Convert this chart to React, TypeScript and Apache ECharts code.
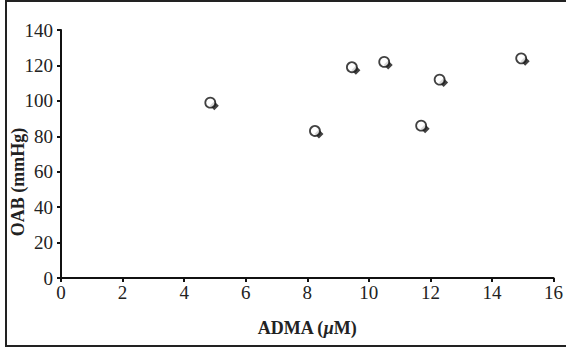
import React, { useEffect, useRef } from "react";
import * as echarts from "echarts";

const xTicks = [0, 2, 4, 6, 8, 10, 12, 14, 16];
const yTicks = [0, 20, 40, 60, 80, 100, 120, 140];
const admaValues = [4.85, 8.25, 9.45, 10.5, 11.7, 12.3, 14.95];
const oabValues = [99, 83, 119, 122, 86, 112, 124];
const xTitle = "ADMA (";
const xTitleItalic = "μ";
const xTitleEnd = "M)";
const yTitle = "OAB (mmHg)";

export default function App() {
  const ref = useRef<HTMLDivElement>(null);
  useEffect(() => {
    if (!ref.current) return;
    const chart = echarts.init(ref.current, null, { renderer: "svg" });
    const data = admaValues.map((x, i) => [x, oabValues[i]]);
    const font = "Liberation Serif";
    chart.setOption({
      animation: false,
      backgroundColor: "#fff",
      grid: { left: 61, right: 11, top: 30, bottom: 75 },
      xAxis: {
        type: "value",
        min: xTicks[0],
        max: xTicks[xTicks.length - 1],
        interval: 2,
        axisLine: { show: true, lineStyle: { color: "#111", width: 2 } },
        axisTick: { show: true, length: 4, lineStyle: { color: "#111", width: 2 } },
        splitLine: { show: false },
        axisLabel: { color: "#222", fontFamily: font, fontSize: 19, margin: 5 },
      },
      yAxis: {
        type: "value",
        min: yTicks[0],
        max: yTicks[yTicks.length - 1],
        interval: 20,
        axisLine: { show: true, lineStyle: { color: "#111", width: 2 } },
        axisTick: { show: true, length: 4, lineStyle: { color: "#111", width: 2 } },
        splitLine: { show: false },
        axisLabel: { color: "#222", fontFamily: font, fontSize: 19, margin: 8 },
      },
      graphic: [
        {
          type: "rect",
          shape: { x: 6, y: 1, width: 570, height: 345 },
          style: { fill: "none", stroke: "#222", lineWidth: 2 },
          silent: true,
        },
        {
          type: "text",
          x: 307,
          y: 328,
          style: {
            text: "{b|" + xTitle + "}{bi|" + xTitleItalic + "}{b|" + xTitleEnd + "}",
            align: "center",
            verticalAlign: "middle",
            rich: {
              b: { fontFamily: font, fontWeight: "bold", fontSize: 18, fill: "#222" },
              bi: { fontFamily: font, fontWeight: "bold", fontStyle: "italic", fontSize: 18, fill: "#222" },
            },
          },
        },
        {
          type: "text",
          x: 18,
          y: 182,
          rotation: Math.PI / 2,
          style: {
            text: yTitle,
            align: "center",
            verticalAlign: "middle",
            fontFamily: font,
            fontWeight: "bold",
            fontSize: 18,
            fill: "#222",
          },
        },
      ],
      series: [
        {
          type: "scatter",
          data,
          symbol: "diamond",
          symbolSize: [9, 9],
          symbolOffset: [4, 3],
          itemStyle: { color: "#111" },
          z: 2,
        },
        {
          type: "scatter",
          data,
          symbol: "circle",
          symbolSize: 10,
          itemStyle: { color: "#fff", borderColor: "#111", borderWidth: 1.8 },
          z: 3,
        },
      ],
    });
    return () => chart.dispose();
  }, []);
  return (
    <div
      ref={ref}
      style={{ position: "fixed", left: 0, top: 0, width: 566, height: 353 }}
    />
  );
}
